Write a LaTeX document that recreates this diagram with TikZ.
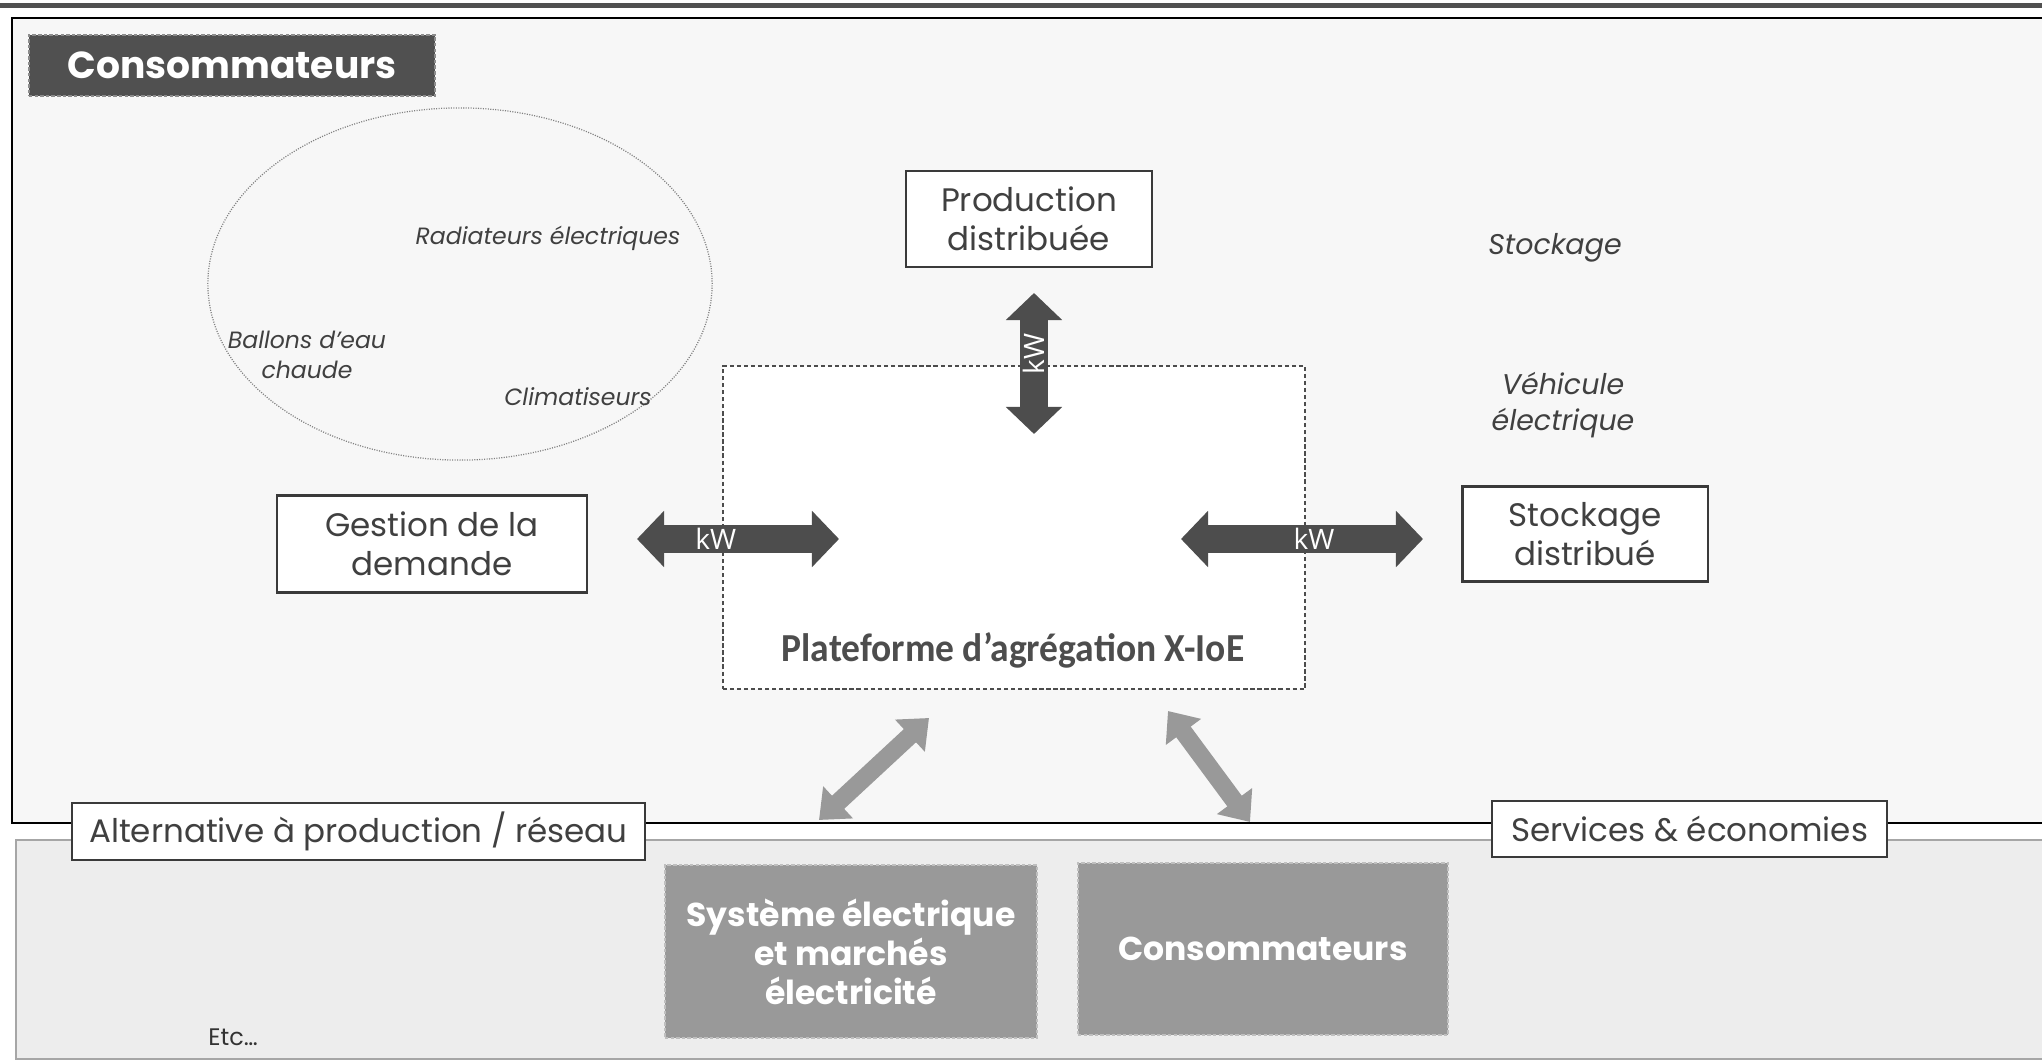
\documentclass[tikz,border=0pt]{standalone}
\usepackage{fontspec}
\setmainfont{Poppins}
\newfontfamily\condfont{Carlito}
\newfontfamily\kwfont{Open Sans}
\usetikzlibrary{arrows.meta,positioning}
\definecolor{topbar}{HTML}{505050}
\definecolor{panelfill}{HTML}{F7F7F7}
\definecolor{lowfill}{HTML}{EDEDED}
\definecolor{lowline}{HTML}{A6A6A6}
\definecolor{boxline}{HTML}{3A3A3A}
\definecolor{labeltext}{HTML}{404040}
\definecolor{arrowdark}{HTML}{4D4D4D}
\definecolor{arrowgrey}{HTML}{999999}

\begin{document}
\begin{tikzpicture}[x=0.01cm,y=-0.01cm]

\tikzset{whitebox/.style={draw=boxline,fill=white,line width=0.6pt,inner sep=0pt,align=center,text=labeltext,font=\fontsize{9.25}{11.1}\selectfont},
greybox/.style={draw=black!25,dashed,dash pattern=on 1pt off 0.6pt,line width=0.4pt,fill=arrowgrey,inner sep=0pt,align=center,text=white,font=\bfseries\fontsize{9.4}{11.1}\selectfont},
titlebox/.style={draw=black!45,dash pattern=on 1pt off 0.6pt,line width=0.4pt,fill=topbar,text=white,inner sep=0pt,minimum width=4.06cm,minimum height=0.61cm,font=\bfseries\fontsize{10.7}{13}\selectfont},
appliance/.style={text=labeltext,align=center,inner sep=0pt,font=\itshape\fontsize{6.7}{8.4}\selectfont},
storagenote/.style={text=labeltext,align=center,inner sep=0pt,font=\itshape\fontsize{8.1}{10}\selectfont},
kwarrow/.style={draw=arrowdark,line width=7.97pt,{Triangle[width=15.6pt,length=7.7pt]}-{Triangle[width=15.6pt,length=7.7pt]}},
greyarrow/.style={draw=arrowgrey,line width=5.1pt,{Triangle[width=12pt,length=7.4pt]}-{Triangle[width=12pt,length=7.4pt]}},
kwlabel/.style={text=white,inner sep=0pt,font=\kwfont\fontsize{8}{9}\selectfont}}

\useasboundingbox (0,0) rectangle (2042,1061);

% Panels
\fill[topbar] (0,3) rectangle (2042,8);
\fill[panelfill] (12,18) rectangle (2042,823);
\draw[line width=0.7pt] (2042,18) -- (12,18) -- (12,823) -- (2042,823);
\fill[lowfill] (16,840) rectangle (2042,1059);
\draw[lowline,line width=0.6pt] (2042,840) -- (16,840) -- (16,1059) -- (2042,1059);

% Title
\node[titlebox] (title) at (232,65.5) {Consommateurs};

% Appliances
\draw[black!50,line width=0.35pt,dash pattern=on 0.3pt off 0.4pt] (460,284) ellipse [x radius=2.52cm, y radius=1.76cm];
\node[appliance] (heaters) at (548,238) {Radiateurs électriques};
\node[appliance] (boilers) at (307,355) {Ballons d’eau\\chaude};
\node[appliance] (aircon) at (578,397) {Climatiseurs};
\node[storagenote] (stock) at (1555,248) {Stockage};
\node[storagenote] (ev) at (1563,405) {Véhicule\\électrique};

% Boxes
\node[whitebox,minimum width=2.45cm,minimum height=0.96cm] (prod) at (1029,219) {Production\\distribuée};
\node[draw=black!70,fill=white,line width=0.5pt,dash pattern=on 1.2pt off 0.8pt,minimum width=5.82cm,minimum height=3.23cm] (platform) at (1014,527.5) {};
\node[text=arrowdark,inner sep=0pt,font=\condfont\bfseries\fontsize{11.3}{13}\selectfont] (platlabel) at (1013,650) {\scalebox{0.945}[1]{Plateforme d’agrégation X-IoE}};
\node[whitebox,minimum width=3.09cm,minimum height=0.97cm] (demand) at (432,544) {Gestion de la\\demande};
\node[whitebox,minimum width=2.45cm,minimum height=0.95cm] (storage) at (1585,534) {Stockage\\distribué};

% kW arrows
\coordinate (prodA) at (1034,293); \coordinate (prodB) at (1034,434);
\coordinate (demA) at (637,539); \coordinate (demB) at (839,539);
\coordinate (stoA) at (1181,539); \coordinate (stoB) at (1423,539);
\draw[kwarrow] (prodB) -- node[kwlabel,pos=0.57,rotate=90] {kW} (prodA);
\draw[kwarrow] (demA) -- node[kwlabel,pos=0.39] {kW} (demB);
\draw[kwarrow] (stoA) -- node[kwlabel,pos=0.55] {kW} (stoB);

% Lower boxes
\node[greybox,minimum width=3.72cm,minimum height=1.73cm] (grid) at (851,951.5) {Système électrique\\et marchés\\électricité};
\node[greybox,minimum width=3.70cm,minimum height=1.72cm] (consumers) at (1263,949) {Consommateurs};

% Grey arrows
\coordinate (gridA) at (819,820); \coordinate (gridB) at (929,718);
\coordinate (consA) at (1168,711); \coordinate (consB) at (1250,822);
\draw[greyarrow] (gridA) -- (gridB);
\draw[greyarrow] (consA) -- (consB);

% Band labels
\node[whitebox,minimum width=5.73cm,minimum height=0.57cm] (altern) at (358.5,831.5) {Alternative à production / réseau};
\node[whitebox,minimum width=3.95cm,minimum height=0.56cm] (services) at (1689.5,829) {Services \& économies};
\node[text=black!80,inner sep=0pt,font=\fontsize{6.8}{8}\selectfont] (etc) at (233,1037) {Etc…};

\end{tikzpicture}
\end{document}
